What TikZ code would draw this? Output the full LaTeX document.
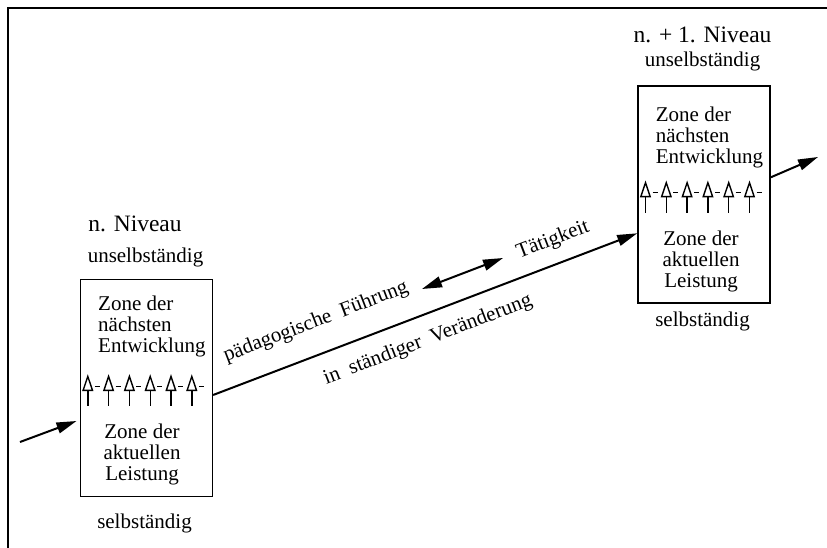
\documentclass[tikz,border=0pt]{standalone}
\usepackage{fontspec}
\setmainfont{Liberation Serif}
\usetikzlibrary{arrows.meta}

% open arrows between the two zones of one level
\newcommand{\zonemarks}[1]{%
  \foreach \i in {0,...,5}{%
    \draw[marker] ([shift={({8.3+20.8*\i},111.7)}]#1.north west) -- ++(0,16);
    \draw[marker] ([shift={({8.3+20.8*\i},111.7)}]#1.north west)
       -- ++(4.7,0) -- ++(-4.7,-14) -- ++(-4.7,14) -- cycle;
    \draw[marker] ([shift={({15.3+20.8*\i},107.7)}]#1.north west) -- ++(5,0);
  }}

\tikzset{
  every node/.style={font=\fontsize{21}{21}\selectfont, inner sep=0pt},
  heading/.style={font=\fontsize{23.5}{25}\selectfont},
  levelbox/.style={draw, line width=1.6pt, minimum width=132pt, minimum height=217pt},
  flow/.style={line width=2pt, -{Triangle[length=20pt,width=11pt]}},
  marker/.style={line width=1.4pt},
}

\begin{document}
\begin{tikzpicture}[x=1pt, y=-1pt]
  \useasboundingbox (0,0) rectangle (827,548);

  % Frame (cut off at right and bottom)
  \draw[line width=1.6pt] (8,548) -- (8,8) -- (827,8);

  % Level n
  \node[levelbox] (levelA) at (146.3,388) {};
  \node[heading, anchor=base] (headA) at (135,232) {n. Niveau};
  \node[anchor=base] (upperA) at (145.5,262) {unselbständig};
  \node[anchor=base] (lowerA) at (144.5,528) {selbständig};
  \node[anchor=north west, align=left] (nextA) at (98,296)
     {Zone der\\nächsten\\Entwicklung};
  \node[anchor=north, align=center] (actualA) at (142,423.7)
     {Zone der\\aktuellen\\Leistung};
  \zonemarks{levelA}

  % Level n + 1
  \node[levelbox] (levelB) at (704,194.3) {};
  \node[heading, anchor=base] (headB) at (702.5,42.7) {n. + 1. Niveau};
  \node[anchor=base] (upperB) at (702.5,66.7) {unselbständig};
  \node[anchor=base] (lowerB) at (702.5,326) {selbständig};
  \node[anchor=north west, align=left] (nextB) at (655.7,106.7)
     {Zone der\\nächsten\\Entwicklung};
  \node[anchor=north, align=center] (actualB) at (701,230.7)
     {Zone der\\aktuellen\\Leistung};
  \zonemarks{levelB}

  % Connectors
  \coordinate (inStart) at (20,442);
  \coordinate (outEnd) at (818,157);
  \coordinate (guideL) at (422,289);
  \coordinate (guideR) at (503,258);
  \draw[flow] (inStart) -- ([shift={(-3,33)}]levelA.west);
  \draw[flow] ([shift={(0,7)}]levelA.east) -- ([shift={(0,39)}]levelB.west);
  \draw[flow] ([shift={(0,-17)}]levelB.east) -- (outEnd);
  \draw[flow, {Triangle[length=20pt,width=11pt]}-{Triangle[length=20pt,width=11pt]}]
     (guideL) -- (guideR);

  % Labels along the way
  \node[rotate=21] (guidance) at (316,322) {pädagogische\ \ Führung};
  \node[rotate=21] (change) at (428,340) {in\ \ ständiger\ \ Veränderung};
  \node[rotate=21] (activity) at (553,240) {Tätigkeit};
\end{tikzpicture}
\end{document}
